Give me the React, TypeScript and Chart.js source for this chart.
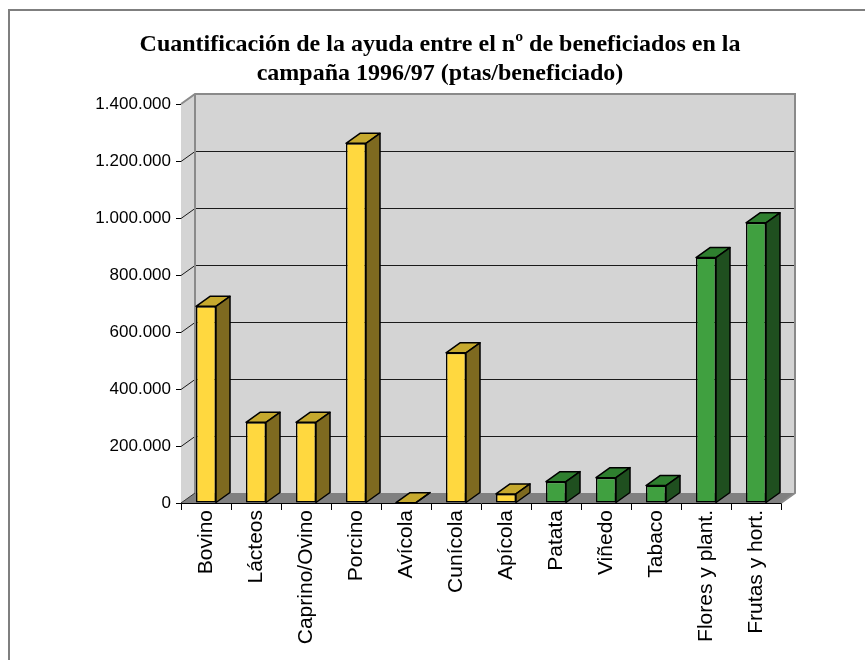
import React, { useEffect, useRef } from 'react';
import { Chart, registerables } from 'chart.js';

Chart.register(...registerables);

const titleLines = [
  'Cuantificación de la ayuda entre el nº de beneficiados en la',
  'campaña 1996/97 (ptas/beneficiado)',
];

const categories = [
  'Bovino',
  'Lácteos',
  'Caprino/Ovino',
  'Porcino',
  'Avícola',
  'Cunícola',
  'Apícola',
  'Patata',
  'Viñedo',
  'Tabaco',
  'Flores y plant.',
  'Frutas y hort.',
];

const values = [690000, 283000, 283000, 1262000, 1000, 527000, 32000, 75000, 89000, 61000, 861000, 983000];

const sectors = [
  'ganaderia', 'ganaderia', 'ganaderia', 'ganaderia', 'ganaderia', 'ganaderia', 'ganaderia',
  'agricultura', 'agricultura', 'agricultura', 'agricultura', 'agricultura',
];

const yTickValues = [0, 200000, 400000, 600000, 800000, 1000000, 1200000, 1400000];
const yTickLabels = ['0', '200.000', '400.000', '600.000', '800.000', '1.000.000', '1.200.000', '1.400.000'];

const palette: Record<string, { front: string; top: string; side: string }> = {
  ganaderia: { front: '#FFD83F', top: '#C6A92E', side: '#7E6A20' },
  agricultura: { front: '#40A040', top: '#2F7F2F', side: '#1F4F1F' },
};

const DX = 14;
const DY = -10;

function poly(ctx: CanvasRenderingContext2D, pts: number[][], fill: string | null, stroke: string | null, lw = 1) {
  ctx.beginPath();
  ctx.moveTo(pts[0][0], pts[0][1]);
  for (let i = 1; i < pts.length; i++) ctx.lineTo(pts[i][0], pts[i][1]);
  ctx.closePath();
  if (fill) {
    ctx.fillStyle = fill;
    ctx.fill();
  }
  if (stroke) {
    ctx.strokeStyle = stroke;
    ctx.lineWidth = lw;
    ctx.lineJoin = 'round';
    ctx.stroke();
  }
}

const wallsPlugin = {
  id: 'walls3d',
  beforeDatasetsDraw(chart: any) {
    const ctx: CanvasRenderingContext2D = chart.ctx;
    const { left, right, top, bottom } = chart.chartArea;
    const ys = chart.scales.y;
    ctx.save();
    // side wall
    poly(ctx, [[left, top], [left + DX, top + DY], [left + DX, bottom + DY], [left, bottom]], '#D4D4D4', null);
    // back wall
    poly(ctx, [[left + DX, top + DY], [right + DX, top + DY], [right + DX, bottom + DY], [left + DX, bottom + DY]], '#D4D4D4', null);
    // floor
    poly(ctx, [[left, bottom], [left + DX, bottom + DY], [right + DX, bottom + DY], [right, bottom]], '#808080', null);
    // gridlines
    ctx.strokeStyle = '#1a1a1a';
    ctx.lineWidth = 1;
    yTickValues.forEach((v) => {
      if (v === yTickValues[0] || v === yTickValues[yTickValues.length - 1]) return;
      const py = Math.round(ys.getPixelForValue(v)) + 0.5;
      ctx.beginPath();
      ctx.moveTo(left, py);
      ctx.lineTo(left + DX, py + DY);
      ctx.lineTo(right + DX, py + DY);
      ctx.stroke();
    });
    // wall borders
    ctx.strokeStyle = '#8A8A8A';
    ctx.lineWidth = 2;
    ctx.beginPath();
    ctx.moveTo(left, top);
    ctx.lineTo(left + DX, top + DY);
    ctx.lineTo(right + DX, top + DY);
    ctx.lineTo(right + DX, bottom + DY);
    ctx.lineTo(right, bottom);
    ctx.moveTo(left + DX, top + DY);
    ctx.lineTo(left + DX, bottom + DY);
    ctx.stroke();
    ctx.strokeStyle = '#333';
    ctx.lineWidth = 1;
    ctx.beginPath();
    ctx.moveTo(left, bottom);
    ctx.lineTo(left + DX, bottom + DY);
    ctx.stroke();
    ctx.restore();
  },
  afterDatasetsDraw(chart: any) {
    const ctx: CanvasRenderingContext2D = chart.ctx;
    const meta = chart.getDatasetMeta(0);
    ctx.save();
    meta.data.forEach((bar: any, i: number) => {
      const { x, y, base, width } = bar.getProps(['x', 'y', 'base', 'width'], true);
      const c = palette[sectors[i]];
      const l = x - width / 2;
      const r = x + width / 2;
      poly(ctx, [[l, y], [l + DX, y + DY], [r + DX, y + DY], [r, y]], c.top, '#000', 1.5);
      poly(ctx, [[r, y], [r + DX, y + DY], [r + DX, base + DY], [r, base]], c.side, '#000', 1.5);
    });
    ctx.restore();
  },
  afterDraw(chart: any) {
    const ctx: CanvasRenderingContext2D = chart.ctx;
    ctx.save();
    // outer frame
    ctx.fillStyle = '#7F7F7F';
    ctx.fillRect(8, 9, 857, 2);
    ctx.fillRect(8, 9, 2, 651);
    // title
    ctx.fillStyle = '#000';
    ctx.font = 'bold 24px "Liberation Serif", "Times New Roman", serif';
    ctx.textAlign = 'center';
    ctx.textBaseline = 'alphabetic';
    ctx.fillText(titleLines[0], 440, 51);
    ctx.fillText(titleLines[1], 440, 80);
    ctx.restore();
  },
};

export default function App() {
  const ref = useRef<HTMLCanvasElement | null>(null);
  useEffect(() => {
    if (!ref.current) return;
    const chart = new Chart(ref.current, {
      type: 'bar',
      data: {
        labels: categories,
        datasets: [
          {
            data: values,
            backgroundColor: sectors.map((s) => palette[s].front),
            borderColor: '#000',
            borderWidth: 1.5,
            borderSkipped: false,
            barPercentage: 0.4,
            categoryPercentage: 1,
          },
        ],
      },
      options: {
        responsive: false,
        animation: false,
        layout: { padding: { top: 104, left: 0, right: 84, bottom: 0 } },
        plugins: {
          legend: { display: false },
          title: { display: false },
          tooltip: { enabled: false },
        },
        scales: {
          x: {
            offset: true,
            grid: { display: true, drawOnChartArea: false, drawTicks: true, tickLength: 7, color: '#000', offset: true },
            border: { display: true, color: '#000', width: 1 },
            ticks: {
              autoSkip: false,
              minRotation: 90,
              maxRotation: 90,
              padding: 0,
              color: '#000',
              font: { family: '"Liberation Sans", Arial, sans-serif', size: 21 },
            },
            afterFit(scale: any) {
              scale.height = 157;
            },
          },
          y: {
            min: 0,
            max: 1400000,
            afterBuildTicks(scale: any) {
              scale.ticks = yTickValues.map((v) => ({ value: v }));
            },
            grid: { display: true, drawOnChartArea: false, drawTicks: true, tickLength: 5, color: '#000' },
            border: { display: true, color: '#000', width: 1 },
            ticks: {
              padding: 5,
              color: '#000',
              font: { family: '"Liberation Sans", Arial, sans-serif', size: 17 },
              callback: (_v: any, idx: number) => yTickLabels[idx],
            },
            afterFit(scale: any) {
              scale.width = 181;
            },
          },
        },
      },
      plugins: [wallsPlugin],
    });
    return () => chart.destroy();
  }, []);
  return (
    <div style={{ position: 'fixed', left: 0, top: 0, width: 865, height: 660, background: '#fff' }}>
      <canvas ref={ref} width={865} height={660} style={{ display: 'block' }} />
    </div>
  );
}
